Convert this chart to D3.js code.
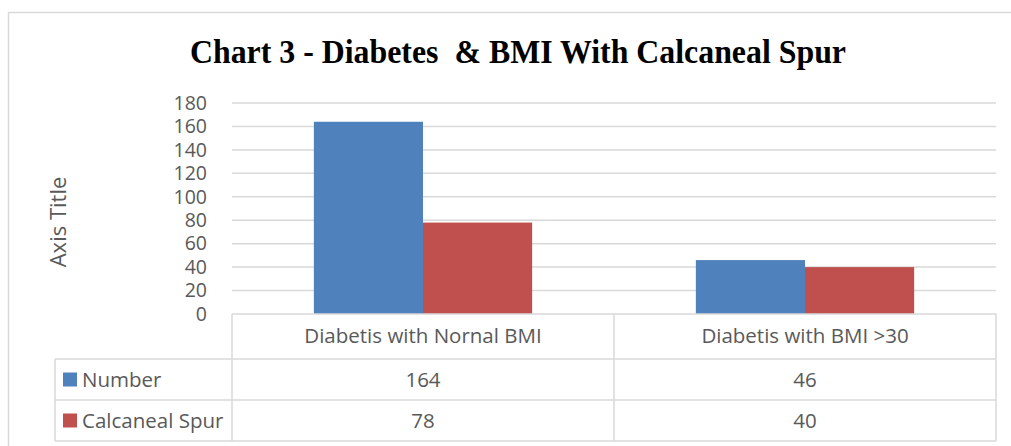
<!DOCTYPE html>
<html>
<head>
<meta charset="utf-8">
<script src="https://cdn.jsdelivr.net/npm/d3@7"></script>
<style>
  body { margin: 0; background: #fff; }
  text { font-family: "Open Sans", "DejaVu Sans", sans-serif; fill: #595959; }
</style>
</head>
<body>
<svg class="chart" width="1011" height="446"></svg>
<script>
// data
var categories = ["Diabetis with Nornal BMI", "Diabetis with BMI >30"];
var series_names = ["Number", "Calcaneal Spur"];
var number_vals = [164, 46];
var spur_vals = [78, 40];
var y_ticks = [0, 20, 40, 60, 80, 100, 120, 140, 160, 180];

var colors = ["#4f81bd", "#c0504d"];
var grid_col = "#d9d9d9";

var svg = d3.select("svg.chart");

// outer frame (only left + top are inside the picture)
svg.append("path")
    .attr("d", "M8.5,446 V12.5 H1011")
    .attr("fill", "none")
    .attr("stroke", grid_col)
    .attr("stroke-width", 1.5);

// title, squeezed like the original
svg.append("text")
    .attr("x", 518)
    .attr("y", 63)
    .attr("text-anchor", "middle")
    .attr("textLength", 656)
    .attr("lengthAdjust", "spacingAndGlyphs")
    .style("white-space", "pre")
    .style("font-family", "'Liberation Serif', 'Times New Roman', serif")
    .style("font-weight", "bold")
    .style("font-size", "34px")
    .style("fill", "#000")
    .text("Chart 3 - Diabetes  & BMI With Calcaneal Spur");

var plot_left = 232, plot_right = 996, plot_top = 103, plot_base = 314;

var x = d3.scaleBand().domain(categories).range([plot_left, plot_right]);
var xs = d3.scaleBand().domain(series_names).range([0, x.bandwidth()]).paddingOuter(0.75);
var y = d3.scaleLinear().domain([0, 180]).range([plot_base, plot_top]);

// gridlines
svg.append("g")
    .selectAll("line")
    .data(y_ticks.slice(1))
    .enter()
    .append("line")
        .attr("x1", plot_left)
        .attr("x2", plot_right)
        .attr("y1", d => y(d))
        .attr("y2", d => y(d))
        .attr("stroke", grid_col)
        .attr("stroke-width", 1.5);

// y axis labels (they nearly touch in the original too)
var yAxis = svg.append("g")
    .attr("transform", `translate(${plot_left - 25},0)`)
    .call(d3.axisLeft(y).tickValues(y_ticks).tickSize(0).tickPadding(0));
yAxis.select(".domain").remove();
yAxis.selectAll("text")
    .style("font-size", "19.5px")
    .style("font-family", "'Open Sans', sans-serif")
    .attr("fill", "#595959");

svg.append("text")
    .attr("transform", "translate(66,222) rotate(-90)")
    .attr("text-anchor", "middle")
    .style("font-size", "22px")
    .text("Axis Title");

// bars
var series = [number_vals, spur_vals];
series.forEach(function(vals, s){
    svg.append("g")
        .selectAll("rect")
        .data(vals)
        .enter()
        .append("rect")
            .attr("x", (d, i) => x(categories[i]) + xs(series_names[s]))
            .attr("width", xs.bandwidth())
            .attr("y", d => y(d))
            .attr("height", d => plot_base - y(d))
            .attr("fill", colors[s]);
});

// data table under the plot
var row_h = [45, 41, 41];
var row_y = [plot_base, plot_base + row_h[0], plot_base + row_h[0] + row_h[1]];
var tab_left = 55;
var lines = svg.append("g")
    .attr("stroke", grid_col)
    .attr("stroke-width", 1.5)
    .attr("fill", "none");

// top of category row
lines.append("line").attr("x1", plot_left).attr("x2", plot_right).attr("y1", plot_base).attr("y2", plot_base);
// row lines across legend column
[row_y[1], row_y[2], row_y[2] + row_h[2]].forEach(function(yy){
    lines.append("line").attr("x1", tab_left).attr("x2", plot_right).attr("y1", yy).attr("y2", yy);
});
// verticals
lines.append("line").attr("x1", tab_left).attr("x2", tab_left).attr("y1", row_y[1]).attr("y2", row_y[2] + row_h[2]);
[plot_left, x(categories[1]), plot_right].forEach(function(xx){
    lines.append("line").attr("x1", xx).attr("x2", xx).attr("y1", plot_base).attr("y2", row_y[2] + row_h[2]);
});

// category labels
svg.append("g")
    .selectAll("text")
    .data(categories)
    .enter()
    .append("text")
        .attr("x", d => x(d) + x.bandwidth() / 2)
        .attr("y", plot_base + 29)
        .attr("text-anchor", "middle")
        .style("font-size", "20.5px")
        .text(d => d);

// legend keys + value cells
series.forEach(function(vals, s){
    var cy = row_y[s + 1] + row_h[s + 1] / 2;
    svg.append("rect")
        .attr("x", 63)
        .attr("y", cy - 7)
        .attr("width", 14)
        .attr("height", 14)
        .attr("fill", colors[s]);
    svg.append("text")
        .attr("x", 82)
        .attr("y", cy + 7)
        .style("font-size", "20.5px")
        .text(series_names[s]);
    svg.append("g")
        .selectAll("text")
        .data(vals)
        .enter()
        .append("text")
            .attr("x", (d, i) => x(categories[i]) + x.bandwidth() / 2)
            .attr("y", cy + 7)
            .attr("text-anchor", "middle")
            .style("font-size", "20.5px")
            .text(d => d);
});
</script>
</body>
</html>
